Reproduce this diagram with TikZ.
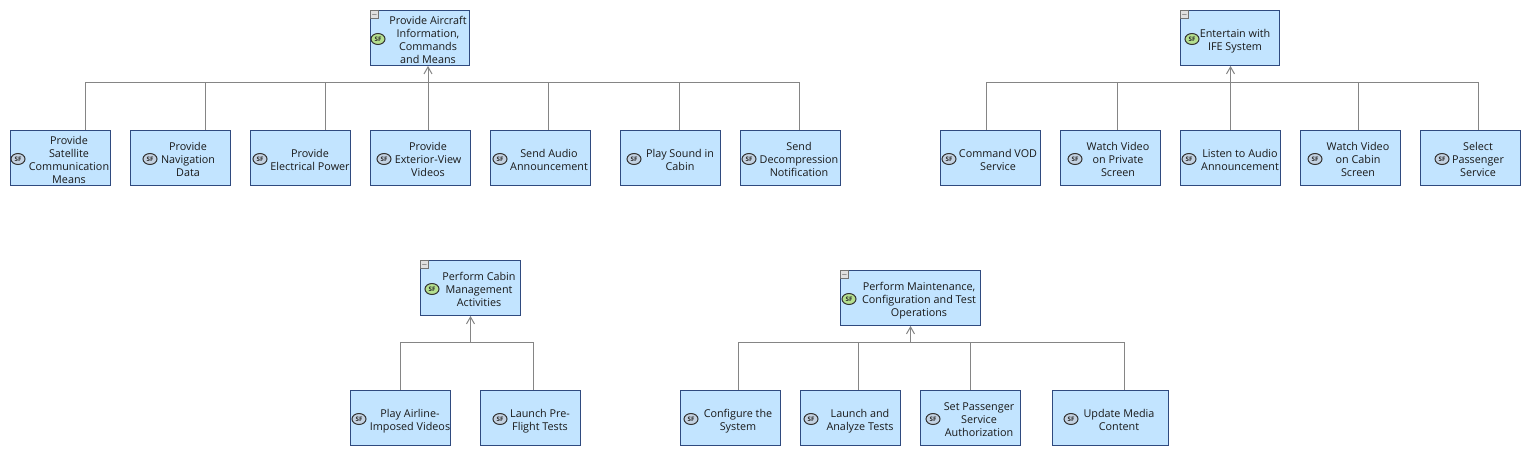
\documentclass[tikz,border=0pt]{standalone}
\usepackage{fontspec}
\setmainfont{Open Sans}
\usetikzlibrary{shapes.geometric,arrows.meta}
\definecolor{boxfill}{HTML}{C2E4FF}
\definecolor{boxline}{HTML}{2F4A7F}
\definecolor{conncol}{HTML}{858585}
\definecolor{leafbadge}{HTML}{C4D2E2}
\definecolor{rootbadge}{HTML}{B5E08F}
\tikzset{
  x=1pt,y=-1pt,
  boxnode/.style={draw=boxline,fill=boxfill,line width=0.9pt,inner sep=0pt,rectangle},
  boxtext/.style={align=center,inner sep=0pt,font=\fontsize{10.8}{13}\selectfont,text=black!90},
  badge/.style={ellipse,draw=black!80,line width=1pt,inner sep=0pt,minimum width=14pt,minimum height=11pt,font=\fontsize{6.2}{6.2}\selectfont\bfseries,text=black!85},
  minusbox/.style={draw=black!55,fill=black!12,line width=0.5pt,inner sep=0pt,minimum width=8pt,minimum height=8pt,font=\fontsize{7}{7}\selectfont},
  link/.style={draw=conncol,line width=1pt},
  uparrow/.style={link,-{Straight Barb[length=7pt,width=8pt,line width=1pt]}},
}
% name, x1, y1, x2, y2, text centre x, badge x, badge colour, text
\newcommand{\leafbx}[9]{%
  \node[boxnode,minimum width=#4-#2-0.5,minimum height=#5-#3-0.5] (#1) at ({(#2+#4)/2-0.25},{(#3+#5)/2-0.25}) {};
  \node[boxtext] (#1t) at (#6,{(#3+#5)/2+3}) {\rule{0pt}{8pt}#9\rule[-3pt]{0pt}{3pt}};
  \node[badge,fill=#8] (#1b) at (#7,{(#3+#5)/2+1}) {SF};
}
\newcommand{\rootbx}[9]{%
  \leafbx{#1}{#2}{#3}{#4}{#5}{#6}{#7}{#8}{#9}
  \node[minusbox] (#1m) at (#2+4.5,#3+4.5) {$-$};
}
\begin{document}
\begin{tikzpicture}
\useasboundingbox (0,0) rectangle (1531,456);
\fill[white] (0,0) rectangle (1531,456);
% hubs on the buses
\coordinate (hubA) at (428,82);
\coordinate (hubB) at (1230.5,82);
\coordinate (hubC) at (470.5,342);
\coordinate (hubD) at (910.5,342);

\rootbx{A}{370}{10}{470}{66}{428}{378}{rootbadge}{Provide Aircraft\\Information,\\Commands\\and Means}
\leafbx{a1}{10}{130}{111}{186}{69}{18}{leafbadge}{Provide\\Satellite\\Communication\\Means}
\leafbx{a2}{130}{130}{231}{186}{188}{150}{leafbadge}{Provide\\Navigation\\Data}
\leafbx{a3}{250}{130}{351}{186}{310}{260}{leafbadge}{Provide\\Electrical Power}
\leafbx{a4}{370}{130}{471}{186}{428}{384}{leafbadge}{Provide\\Exterior-View\\Videos}
\leafbx{a5}{490}{130}{591}{186}{549}{500}{leafbadge}{Send Audio\\Announcement}
\leafbx{a6}{620}{130}{721}{186}{680}{634}{leafbadge}{Play Sound in\\Cabin}
\leafbx{a7}{740}{130}{841}{186}{799}{749}{leafbadge}{Send\\Decompression\\Notification}

\rootbx{B}{1180}{10}{1280}{66}{1235}{1192}{rootbadge}{Entertain with\\IFE System}
\leafbx{b1}{940}{130}{1041}{186}{998}{949}{leafbadge}{Command VOD\\Service}
\leafbx{b2}{1060}{130}{1161}{186}{1118}{1075}{leafbadge}{Watch Video\\on Private\\Screen}
\leafbx{b3}{1180}{130}{1281}{186}{1240}{1189}{leafbadge}{Listen to Audio\\Announcement}
\leafbx{b4}{1300}{130}{1401}{186}{1358}{1315}{leafbadge}{Watch Video\\on Cabin\\Screen}
\leafbx{b5}{1420}{130}{1521}{186}{1478}{1442}{leafbadge}{Select\\Passenger\\Service}

\rootbx{C}{420}{260}{521}{316}{479}{432}{rootbadge}{Perform Cabin\\Management\\Activities}
\leafbx{c1}{350}{390}{451}{446}{410}{359}{leafbadge}{Play Airline-\\Imposed Videos}
\leafbx{c2}{480}{390}{581}{446}{540}{500}{leafbadge}{Launch Pre-\\Flight Tests}

\rootbx{D}{840}{270}{981}{326}{919}{849}{rootbadge}{Perform Maintenance,\\Configuration and Test\\Operations}
\leafbx{d1}{680}{390}{781}{446}{738}{691}{leafbadge}{Configure the\\System}
\leafbx{d2}{800}{390}{901}{446}{860}{811}{leafbadge}{Launch and\\Analyze Tests}
\leafbx{d3}{920}{390}{1021}{446}{979}{933}{leafbadge}{Set Passenger\\Service\\Authorization}
\leafbx{d4}{1052}{390}{1169}{446}{1119}{1071}{leafbadge}{Update Media\\Content}

% connectors
\draw[link] ([xshift=25]a1.north) |- (hubA);
\draw[link] ([xshift=25]a2.north) |- (hubA);
\draw[link] ([xshift=25]a3.north) |- (hubA);
\draw[link] (hubA |- a4.north) -- (hubA);
\draw[link] ([xshift=8]a5.north) |- (hubA);
\draw[link] ([xshift=9]a6.north) |- (hubA);
\draw[link] ([xshift=9]a7.north) |- (hubA);
\draw[uparrow] (hubA) -- (hubA |- A.south);

\draw[link] ([xshift=-4]b1.north) |- (hubB);
\draw[link] ([xshift=7]b2.north) |- (hubB);
\draw[link] (hubB |- b3.north) -- (hubB);
\draw[link] ([xshift=8]b4.north) |- (hubB);
\draw[link] ([xshift=8]b5.north) |- (hubB);
\draw[uparrow] (hubB) -- (hubB |- B.south);

\draw[link] (c1.north) |- (hubC);
\draw[link] ([xshift=3]c2.north) |- (hubC);
\draw[uparrow] (hubC) -- (hubC |- C.south);

\draw[link] ([xshift=8.5]d1.north) |- (hubD);
\draw[link] ([xshift=8]d2.north) |- (hubD);
\draw[link] (d3.north) |- (hubD);
\draw[link] ([xshift=14]d4.north) |- (hubD);
\draw[uparrow] (hubD) -- (hubD |- D.south);
\end{tikzpicture}
\end{document}
